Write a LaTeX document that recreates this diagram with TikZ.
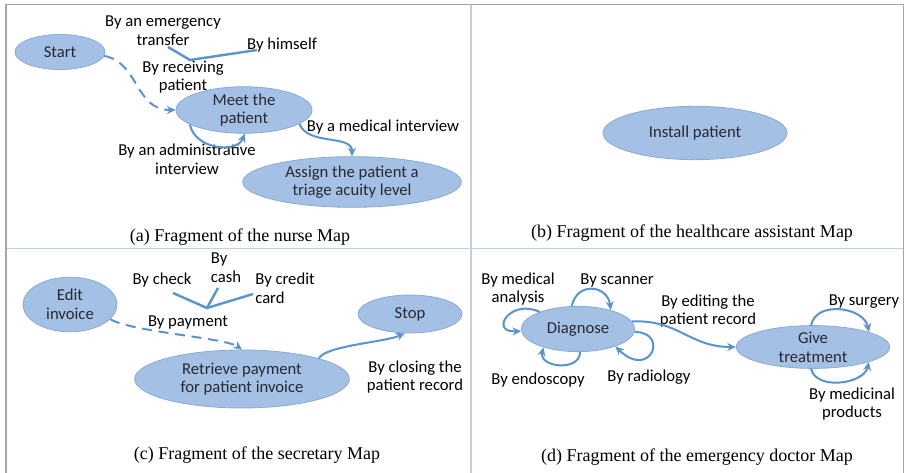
\documentclass[tikz,border=0pt]{standalone}
\usepackage{fontspec}
\setmainfont{Carlito}
\newfontfamily\capfont{Liberation Serif}
\usetikzlibrary{shapes.geometric,arrows.meta}
\definecolor{ellfill}{RGB}{164,193,229}
\definecolor{elldraw}{RGB}{136,170,212}
\definecolor{arrowc}{RGB}{88,148,208}
\definecolor{framec}{RGB}{165,165,165}
\definecolor{divc}{RGB}{190,208,226}
\definecolor{nodetext}{RGB}{40,40,50}
\begin{document}
\begin{tikzpicture}[x=0.75pt,y=-0.75pt,
  st/.style={ellipse, fill=ellfill, draw=elldraw, line width=0.6pt, inner sep=0pt, align=center, text=nodetext, font=\fontsize{12.5}{14}\selectfont},
  lbl/.style={inner sep=0pt, align=center, font=\fontsize{12.5}{14}\selectfont, text=black},
  captxt/.style={inner sep=0pt, font=\capfont\fontsize{13.5}{16}\selectfont},
  conn/.style={draw=arrowc, line width=1.5pt, -{Stealth[length=6.5pt,width=6pt]}},
  dconn/.style={conn, dash pattern=on 7.5pt off 5pt},
  branch/.style={draw=arrowc, line width=1.8pt},
]
\useasboundingbox (0,0) rectangle (906,473);
% frame and dividers
\draw[divc, line width=0.9pt] (471,5) -- (471,473);
\draw[divc, line width=0.9pt] (6,248.5) -- (903,248.5);
\draw[framec, line width=1.4pt] (6,473) -- (6,4.5) -- (903.5,4.5) -- (903.5,473);

% ---------- (a) nurse ----------
\node[st, minimum width=67.5pt, minimum height=26.25pt] (start) at (60,52) {Start};
\node[st, minimum width=102pt, minimum height=27pt] (meet) at (244,110) {Meet the\\patient};
\node[st, minimum width=164pt, minimum height=38pt] (assign) at (352,182) {Assign the patient a\\triage acuity level};
\node[lbl] (lemerg) at (163,31) {By an emergency\\transfer};
\node[lbl] (lhimself) at (282,45) {By himself};
\node[lbl] (lrecv) at (183,77) {By receiving\\patient};
\node[lbl] (ladmin) at (187,159) {By an administrative\\interview};
\node[lbl] (lmed) at (383,127) {By a medical interview};
\node[captxt] (capa) at (240,237) {(a) Fragment of the nurse Map};
\coordinate (ja) at (190,60);
\coordinate (ea) at (168,47);
\coordinate (ha) at (257,50);
\draw[branch] (ea) -- (ja) -- (ha);
\draw[dconn] (start.-5) .. controls +(35,7) and +(-41,0) .. (meet.west);
\draw[conn] (meet.195) .. controls +(5,25) and +(-8,20) .. (meet.272);
\draw[conn] (meet.-14) .. controls +(8,22) and +(0,-22) .. (assign.north);

% ---------- (b) healthcare assistant ----------
\node[st, minimum width=138pt, minimum height=40pt] (install) at (695,133) {Install patient};
\node[captxt] (capb) at (692,233) {(b) Fragment of the healthcare assistant Map};

% ---------- (c) secretary ----------
\node[st, minimum width=70.5pt, minimum height=41pt] (edit) at (70,304.5) {Edit\\invoice};
\node[st, minimum width=161pt, minimum height=43.5pt] (retrieve) at (242,379) {Retrieve payment\\for patient invoice};
\node[st, minimum width=78pt, minimum height=28.5pt] (stop) at (410,314) {Stop};
\node[lbl] (lcheck) at (162,280) {By check};
\node[lbl, align=left] (lcash) at (226,268) {By\\cash};
\node[lbl, align=left] (lcredit) at (285,288) {By credit\\card};
\node[lbl] (lpay) at (188,322) {By payment};
\node[lbl] (lclose) at (415,377) {By closing the\\patient record};
\node[captxt] (capc) at (257,455) {(c) Fragment of the secretary Map};
\coordinate (jc) at (207,308);
\coordinate (ck) at (173,293);
\coordinate (cs) at (218,288);
\coordinate (cc) at (253,294);
\draw[branch] (ck) -- (jc) -- (cc);
\draw[branch] (cs) -- (jc);
\draw[dconn] (edit.-20) .. controls +(22,13) and +(-17,-12) .. (retrieve.north);
\draw[conn] (retrieve.15) .. controls +(7,-13) and +(-20,9) .. (stop.255);

% ---------- (d) emergency doctor ----------
\node[st, minimum width=85pt, minimum height=34pt] (diag) at (578,329) {Diagnose};
\node[st, minimum width=115pt, minimum height=30pt] (give) at (813,347) {Give\\treatment};
\node[lbl] (lanal) at (518,289) {By medical\\analysis};
\node[lbl] (lscan) at (617,280) {By scanner};
\node[lbl] (lendo) at (538,380) {By endoscopy};
\node[lbl] (lradio) at (649,377) {By radiology};
\node[lbl] (ledit) at (708,311) {By editing the\\patient record};
\node[lbl] (lsurg) at (864,302) {By surgery};
\node[lbl] (lmedi) at (852,404) {By medicinal\\products};
\node[captxt] (capd) at (697,457) {(d) Fragment of the emergency doctor Map};
\draw[conn] (diag.156) .. controls +(-30,-14) and +(-32,2) .. (diag.182);
\draw[conn] (diag.105) .. controls +(5,-25) and +(-3,-25) .. (diag.30);
\draw[conn] (diag.275) .. controls +(0,20) and +(-5,20) .. (diag.208);
\draw[conn] (diag.-3) .. controls +(35,0) and +(35,34) .. (diag.-25);
\draw[conn] (diag.8) .. controls +(47,-2) and +(-47,0) .. (give.west);
\draw[conn] (give.95) .. controls +(5,-25) and +(-5,-25) .. (give.15);
\draw[conn] (give.265) .. controls +(5,22) and +(-5,22) .. (give.-15);
\end{tikzpicture}
\end{document}
